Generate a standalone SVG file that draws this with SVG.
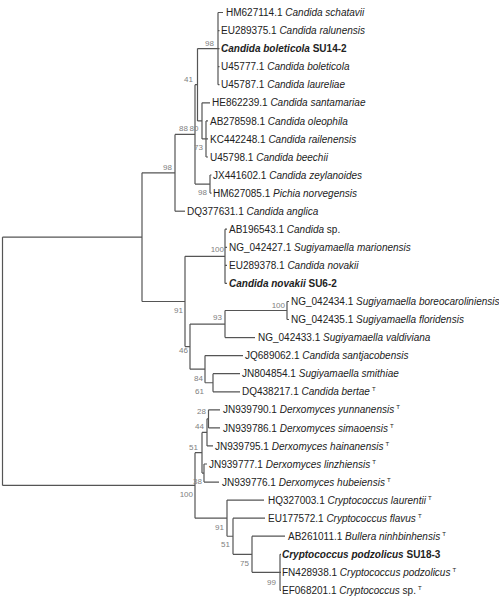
<svg xmlns="http://www.w3.org/2000/svg" width="499" height="612" viewBox="0 0 499 612">
<style>
.e{fill:none;stroke:#555;stroke-width:1.2}
.t{font-family:"Liberation Sans",Arial,sans-serif;font-size:10px;fill:#222}
.i{font-style:italic}
.b{font-weight:bold}
.s{font-size:6px}
.bs{font-family:"Liberation Sans",Arial,sans-serif;font-size:8px;fill:#808080;text-anchor:end}
</style>
<rect width="499" height="612" fill="#fff"/>
<g id="connectors" class="e">
<path d="M2.5,237.1V485.45"/>
<path d="M2.5,237.1H142M142,172.8V301.5"/>
<path d="M142,172.8H175M175,134.4V211.2"/>
<path d="M175,134.4H195M195,84.7V184.05"/>
<path d="M195,84.7H197.5M197.5,48.6V120.9"/>
<path d="M197.5,48.6H218M218,12.5V84.7"/>
<path d="M218,12.5H223M218,30.6H219.5M218,48.6H219.5M218,66.7H219.5M218,84.7H219.5"/>
<path d="M197.5,120.9H202M202,102.8V138.9M202,102.8H210"/>
<path d="M202,138.9H206M206,120.9V157M206,120.9H208M206,138.9H208M206,157H208"/>
<path d="M195,184.05H210M210,175V193.1M210,175H211.5M210,193.1H211.5"/>
<path d="M175,211.2H185"/>
<path d="M142,301.5H185M185,256.3V346.6"/>
<path d="M185,256.3H225M225,229.2V283.4M225,229.2H227M225,247.3H227M225,265.3H227M225,283.4H227"/>
<path d="M185,346.6H190M190,324.05V369.2"/>
<path d="M190,324.05H225M225,310.5V337.6"/>
<path d="M225,310.5H287M287,301.5V319.5M287,301.5H289M287,319.5H289"/>
<path d="M225,337.6H255"/>
<path d="M190,369.2H205M205,355.6V382.75M205,355.6H243"/>
<path d="M205,382.75H213M213,373.7V391.8M213,373.7H240M213,391.8H240"/>
<path d="M2.5,485.45H195M195,452.7V518.2"/>
<path d="M195,452.7H202M202,432.4V473.05"/>
<path d="M202,432.4H207M207,418.85V445.9M207,445.9H213"/>
<path d="M207,418.85H208.5M208.5,409.8V427.9M208.5,409.8H220M208.5,427.9H220"/>
<path d="M202,473.05H204M204,464V482.1M204,464H207M204,482.1H219"/>
<path d="M195,518.2H227M227,500.1V536.25M227,500.1H264"/>
<path d="M227,536.25H233M233,518.2V554.3M233,518.2H265"/>
<path d="M233,554.3H252M252,536.2V572.35M252,536.2H285"/>
<path d="M252,572.35H280M280,554.3V590.4M280,554.3H281M280,572.35H281M280,590.4H281"/>
</g>
<g id="support-values">
<text class="bs" x="172" y="170">98</text>
<text class="bs" x="214" y="46">98</text>
<text class="bs" x="193" y="82">41</text>
<text class="bs" x="188" y="131">88</text>
<text class="bs" x="198.5" y="131">80</text>
<text class="bs" x="203" y="150">73</text>
<text class="bs" x="207" y="195">98</text>
<text class="bs" x="224" y="252">100</text>
<text class="bs" x="183" y="313">91</text>
<text class="bs" x="222" y="320">93</text>
<text class="bs" x="285" y="308">100</text>
<text class="bs" x="188" y="353">46</text>
<text class="bs" x="203" y="381">84</text>
<text class="bs" x="204" y="394">61</text>
<text class="bs" x="206" y="414">28</text>
<text class="bs" x="204" y="429">44</text>
<text class="bs" x="198" y="450">51</text>
<text class="bs" x="202" y="484">38</text>
<text class="bs" x="193" y="497">100</text>
<text class="bs" x="224" y="530">91</text>
<text class="bs" x="230" y="547">51</text>
<text class="bs" x="249" y="566">75</text>
<text class="bs" x="276" y="585">99</text>
</g>
<g id="leaf-HM627114"><text class="t" x="226" y="16.1">HM627114.1 <tspan class="i">Candida schatavii</tspan></text></g>
<g id="leaf-EU289375"><text class="t" x="221" y="34.2">EU289375.1 <tspan class="i">Candida ralunensis</tspan></text></g>
<g id="leaf-SU14-2"><text class="t b" x="221" y="52.2"><tspan class="i">Candida boleticola</tspan> SU14-2</text></g>
<g id="leaf-U45777"><text class="t" x="221" y="70.3">U45777.1 <tspan class="i">Candida boleticola</tspan></text></g>
<g id="leaf-U45787"><text class="t" x="221" y="88.3">U45787.1 <tspan class="i">Candida laureliae</tspan></text></g>
<g id="leaf-HE862239"><text class="t" x="212" y="106.4">HE862239.1 <tspan class="i">Candida santamariae</tspan></text></g>
<g id="leaf-AB278598"><text class="t" x="210" y="124.5">AB278598.1 <tspan class="i">Candida oleophila</tspan></text></g>
<g id="leaf-KC442248"><text class="t" x="210" y="142.5">KC442248.1 <tspan class="i">Candida railenensis</tspan></text></g>
<g id="leaf-U45798"><text class="t" x="210" y="160.6">U45798.1 <tspan class="i">Candida beechii</tspan></text></g>
<g id="leaf-JX441602"><text class="t" x="213" y="178.6">JX441602.1 <tspan class="i">Candida zeylanoides</tspan></text></g>
<g id="leaf-HM627085"><text class="t" x="213" y="196.7">HM627085.1 <tspan class="i">Pichia norvegensis</tspan></text></g>
<g id="leaf-DQ377631"><text class="t" x="187" y="214.8">DQ377631.1 <tspan class="i">Candida anglica</tspan></text></g>
<g id="leaf-AB196543"><text class="t" x="229" y="232.8">AB196543.1 <tspan class="i">Candida</tspan> sp.</text></g>
<g id="leaf-NG_042427"><text class="t" x="229" y="250.9">NG_042427.1 <tspan class="i">Sugiyamaella marionensis</tspan></text></g>
<g id="leaf-EU289378"><text class="t" x="229" y="268.9">EU289378.1 <tspan class="i">Candida novakii</tspan></text></g>
<g id="leaf-SU6-2"><text class="t b" x="229" y="287"><tspan class="i">Candida novakii</tspan> SU6-2</text></g>
<g id="leaf-NG_042434"><text class="t" x="291" y="305.1">NG_042434.1 <tspan class="i">Sugiyamaella boreocaroliniensis</tspan></text></g>
<g id="leaf-NG_042435"><text class="t" x="291" y="323.1">NG_042435.1 <tspan class="i">Sugiyamaella floridensis</tspan></text></g>
<g id="leaf-NG_042433"><text class="t" x="258" y="341.2">NG_042433.1 <tspan class="i">Sugiyamaella valdiviana</tspan></text></g>
<g id="leaf-JQ689062"><text class="t" x="245" y="359.2">JQ689062.1 <tspan class="i">Candida santjacobensis</tspan></text></g>
<g id="leaf-JN804854"><text class="t" x="242" y="377.3">JN804854.1 <tspan class="i">Sugiyamaella smithiae</tspan></text></g>
<g id="leaf-DQ438217"><text class="t" x="242" y="395.4">DQ438217.1 <tspan class="i">Candida bertae</tspan><tspan class="s" dx="2" dy="-4">T</tspan></text></g>
<g id="leaf-JN939790"><text class="t" x="223" y="413.4">JN939790.1 <tspan class="i">Derxomyces yunnanensis</tspan><tspan class="s" dx="2" dy="-4">T</tspan></text></g>
<g id="leaf-JN939786"><text class="t" x="223" y="431.5">JN939786.1 <tspan class="i">Derxomyces simaoensis</tspan><tspan class="s" dx="2" dy="-4">T</tspan></text></g>
<g id="leaf-JN939795"><text class="t" x="215" y="449.5">JN939795.1 <tspan class="i">Derxomyces hainanensis</tspan><tspan class="s" dx="2" dy="-4">T</tspan></text></g>
<g id="leaf-JN939777"><text class="t" x="209" y="467.6">JN939777.1 <tspan class="i">Derxomyces linzhiensis</tspan><tspan class="s" dx="2" dy="-4">T</tspan></text></g>
<g id="leaf-JN939776"><text class="t" x="222" y="485.7">JN939776.1 <tspan class="i">Derxomyces hubeiensis</tspan><tspan class="s" dx="2" dy="-4">T</tspan></text></g>
<g id="leaf-HQ327003"><text class="t" x="268" y="503.7">HQ327003.1 <tspan class="i">Cryptococcus laurentii</tspan><tspan class="s" dx="2" dy="-4">T</tspan></text></g>
<g id="leaf-EU177572"><text class="t" x="268" y="521.8">EU177572.1 <tspan class="i">Cryptococcus flavus</tspan><tspan class="s" dx="2" dy="-4">T</tspan></text></g>
<g id="leaf-AB261011"><text class="t" x="288" y="539.8">AB261011.1 <tspan class="i">Bullera ninhbinhensis</tspan><tspan class="s" dx="2" dy="-4">T</tspan></text></g>
<g id="leaf-SU18-3"><text class="t b" x="282" y="557.9"><tspan class="i">Cryptococcus podzolicus</tspan> SU18-3</text></g>
<g id="leaf-FN428938"><text class="t" x="282" y="576">FN428938.1 <tspan class="i">Cryptococcus podzolicus</tspan><tspan class="s" dx="2" dy="-4">T</tspan></text></g>
<g id="leaf-EF068201"><text class="t" x="282" y="594">EF068201.1 <tspan class="i">Cryptococcus</tspan> sp.<tspan class="s" dx="2" dy="-4">T</tspan></text></g>
</svg>
